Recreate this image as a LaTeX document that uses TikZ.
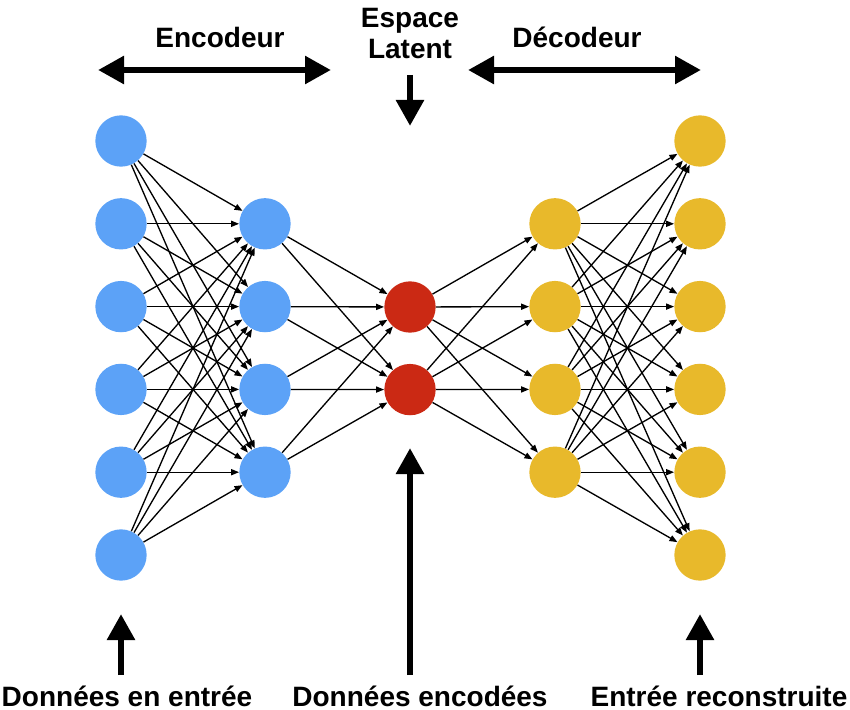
\documentclass[tikz,border=0pt]{standalone}
\usepackage{fontspec}
\setmainfont{Liberation Sans}
\usepackage{xcolor}
\usepackage{tikz}
\usetikzlibrary{arrows.meta,positioning}

\definecolor{encblue}{RGB}{92,162,247}
\definecolor{latred}{RGB}{203,41,20}
\definecolor{decyellow}{RGB}{232,185,43}

\tikzset{
  neuron/.style={circle, minimum size=38.5pt, inner sep=0pt},
  encnode/.style={neuron, fill=encblue},
  latnode/.style={neuron, fill=latred},
  decnode/.style={neuron, fill=decyellow},
  link/.style={-{Triangle[length=6pt,width=4.6pt]}, line width=1pt},
  bigarrow/.style={line width=5pt, -{Triangle[length=19.5pt,width=20pt]}},
  bigdouble/.style={line width=5pt, {Triangle[length=19.5pt,width=20pt]}-{Triangle[length=19.5pt,width=20pt]}},
  lab/.style={font=\bfseries\fontsize{21}{23.25}\selectfont, anchor=base, inner sep=0pt}
}

\begin{document}
\begin{tikzpicture}[x=0.75pt, y=-0.75pt]
\useasboundingbox (0,0) rectangle (850,710);

% layers
\foreach \i in {1,...,6} {
  \node[encnode] (in-\i) at (121,{58.2+82.8*\i}) {};
  \node[decnode] (out-\i) at (700,{58.2+82.8*\i}) {};
}
\foreach \i in {1,...,4} {
  \node[encnode] (enc-\i) at (265,{141+82.8*\i}) {};
  \node[decnode] (dec-\i) at (555,{141+82.8*\i}) {};
}
\node[latnode] (lat-1) at (410,307) {};
\node[latnode] (lat-2) at (410,389.6) {};

% connections
\foreach \i in {1,...,6}
  \foreach \j in {1,...,4}
    \draw[link] (in-\i) -- (enc-\j);
\foreach \i in {1,...,4}
  \foreach \j in {1,2}
    \draw[link] (enc-\i) -- (lat-\j);
\foreach \i in {1,2}
  \foreach \j in {1,...,4}
    \draw[link] (lat-\i) -- (dec-\j);
\foreach \i in {1,...,4}
  \foreach \j in {1,...,6}
    \draw[link] (dec-\i) -- (out-\j);

% top
\coordinate (encL) at (98,70);
\coordinate (encR) at (331,70);
\coordinate (decL) at (468,70);
\coordinate (decR) at (701,70);
\coordinate (latT) at (410,75);
\coordinate (latB) at (410,126);
\draw[bigdouble] (encL) -- (encR);
\draw[bigdouble] (decL) -- (decR);
\draw[bigarrow] (latT) -- (latB);
\node[lab] (encoder) at (220,48) {Encodeur};
\node[lab] (decoder) at (577,48) {Décodeur};
\node[lab, align=center] (latent) at (410,59) {Espace\\Latent};

% bottom
\coordinate (inB) at (121,675);
\coordinate (inT) at (121,614);
\coordinate (codeB) at (410,675);
\coordinate (codeT) at (410,448);
\coordinate (outB) at (700,675);
\coordinate (outT) at (700,614);
\draw[bigarrow] (inB) -- (inT);
\draw[bigarrow] (codeB) -- (codeT);
\draw[bigarrow] (outB) -- (outT);
\node[lab] (input) at (127,706) {Données en entrée};
\node[lab] (code) at (420,706) {Données encodées};
\node[lab] (output) at (719,706) {Entrée reconstruite};
\end{tikzpicture}
\end{document}
